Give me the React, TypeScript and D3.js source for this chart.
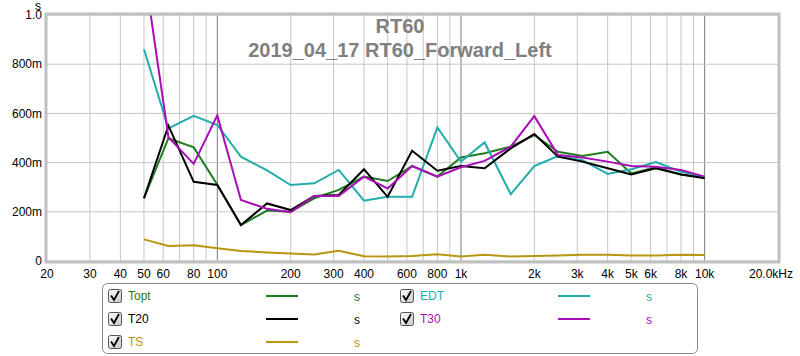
import React from "react";
import * as d3 from "d3";

const freqs = [50, 63, 80, 100, 125, 160, 200, 250, 315, 400, 500, 630, 800, 1000, 1250, 1600, 2000, 2500, 3150, 4000, 5000, 6300, 8000, 10000];
const topt = [0.255, 0.499, 0.462, 0.31, 0.146, 0.205, 0.2, 0.255, 0.289, 0.343, 0.325, 0.386, 0.343, 0.421, 0.438, 0.465, 0.512, 0.444, 0.427, 0.444, 0.356, 0.381, 0.352, 0.34];
const edt = [0.861, 0.539, 0.59, 0.553, 0.424, 0.368, 0.309, 0.316, 0.37, 0.245, 0.261, 0.261, 0.543, 0.404, 0.482, 0.272, 0.386, 0.427, 0.41, 0.354, 0.373, 0.402, 0.363, 0.343];
const t20 = [0.255, 0.55, 0.322, 0.309, 0.146, 0.234, 0.207, 0.264, 0.268, 0.373, 0.261, 0.448, 0.367, 0.386, 0.377, 0.458, 0.516, 0.424, 0.404, 0.377, 0.352, 0.377, 0.352, 0.336];
const t30 = [1.19, 0.503, 0.395, 0.592, 0.248, 0.212, 0.198, 0.264, 0.264, 0.343, 0.295, 0.386, 0.343, 0.381, 0.407, 0.465, 0.589, 0.431, 0.421, 0.404, 0.386, 0.383, 0.37, 0.343];
const ts = [0.088, 0.061, 0.064, 0.052, 0.041, 0.035, 0.03, 0.026, 0.042, 0.019, 0.018, 0.02, 0.027, 0.018, 0.025, 0.018, 0.02, 0.022, 0.025, 0.025, 0.022, 0.022, 0.025, 0.024];

const xTickValues = [20, 30, 40, 50, 60, 80, 100, 200, 300, 400, 600, 800, 1000, 2000, 3000, 4000, 5000, 6000, 8000, 10000];
const xTickLabels = ["20", "30", "40", "50", "60", "80", "100", "200", "300", "400", "600", "800", "1k", "2k", "3k", "4k", "5k", "6k", "8k", "10k"];
const yTickValues = [0, 0.2, 0.4, 0.6, 0.8, 1.0];
const yTickLabels = ["0", "200m", "400m", "600m", "800m", "1.0"];

const seriesNames = ["Topt", "EDT", "T20", "T30", "TS"];
const seriesColors = ["#1e7d1e", "#22acac", "#000000", "#a80fb4", "#b8960f"];
const seriesData = [topt, edt, t20, t30, ts];

const FONT = "'Liberation Sans', Arial, sans-serif";

export default function App() {
  const L = 47, R = 778, T = 15, B = 261;
  const x = d3.scaleLog().domain([20, 20000]).range([L, R]);
  const y = d3.scaleLinear().domain([0, 1]).range([B, T]);

  const gridX: number[] = [];
  for (let dec = 10; dec <= 10000; dec *= 10) {
    for (let m = 1; m <= 9; m++) {
      const v = dec * m;
      if (v > 20 && v < 20000) gridX.push(v);
    }
  }
  const line = d3
    .line<number>()
    .x((_, i) => x(freqs[i]))
    .y((d) => y(d));

  const legendItems = [
    { i: 0, col: 0, row: 0 },
    { i: 1, col: 1, row: 0 },
    { i: 2, col: 0, row: 1 },
    { i: 3, col: 1, row: 1 },
    { i: 4, col: 0, row: 2 },
  ];

  return (
    <svg width={800} height={356} style={{ position: "absolute", left: 0, top: 0, background: "#fff" }} fontFamily={FONT}>
      <defs>
        <clipPath id="plotclip">
          <rect x={L} y={T} width={R - L} height={B - T} />
        </clipPath>
        <linearGradient id="cbg" x1="0" y1="0" x2="1" y2="1">
          <stop offset="0" stopColor="#ffffff" />
          <stop offset="1" stopColor="#c8c8c8" />
        </linearGradient>
      </defs>
      <rect x={0} y={0} width={800} height={356} fill="#fff" />
      {gridX.map((v) => {
        const dec = Math.abs(Math.log10(v) % 1) < 1e-9;
        return (
          <line key={"gx" + v} x1={x(v)} x2={x(v)} y1={T} y2={B} stroke={dec ? "#7a7a7a" : "#c6c6c6"} strokeWidth={1} />
        );
      })}
      {yTickValues.map((v) => (
        <line key={"gy" + v} x1={L} x2={R} y1={y(v)} y2={y(v)} stroke="#c6c6c6" strokeWidth={1} />
      ))}
      <text x={400} y={33} textAnchor="middle" fontSize={20} fontWeight="bold" fill="#808080">RT60</text>
      <text x={400} y={57} textAnchor="middle" fontSize={20} fontWeight="bold" fill="#808080">2019_04_17 RT60_Forward_Left</text>
      <g clipPath="url(#plotclip)">
        {seriesData.map((d, k) => (
          <path key={seriesNames[k]} d={line(d) || ""} fill="none" stroke={seriesColors[k]} strokeWidth={2} strokeLinejoin="miter" />
        ))}
      </g>
      <rect x={L - 1} y={T - 1} width={R - L + 2} height={B - T + 2} fill="none" stroke="#c0c0c0" strokeWidth={3} />
      {yTickValues.map((v, i) => (
        <text key={"yl" + v} x={42} y={y(v)} dy="0.35em" textAnchor="end" fontSize={12} fill="#000">{yTickLabels[i]}</text>
      ))}
      <text x={38} y={10} textAnchor="middle" fontSize={12} fill="#000">s</text>
      {xTickValues.map((v, i) => (
        <text key={"xl" + v} x={x(v)} y={278} textAnchor="middle" fontSize={12} fill="#000">{xTickLabels[i]}</text>
      ))}
      <text x={793} y={278} textAnchor="end" fontSize={12} fill="#000">20.0kHz</text>
      <rect x={102.5} y={283.5} width={595} height={70} rx={5} fill="#fff" stroke="#8a8a8a" strokeWidth={1} />
      {legendItems.map(({ i, col, row }) => {
        const ox = col * 292;
        const cy = 296 + row * 23;
        return (
          <g key={"lg" + i}>
            <rect x={108.5 + ox} y={cy - 6.5} width={13} height={13} rx={2} fill="url(#cbg)" stroke="#555" strokeWidth={1} />
            <path d={`M${111 + ox},${cy - 0.5} L${114 + ox},${cy + 4} L${119 + ox},${cy - 5}`} fill="none" stroke="#000" strokeWidth={1.8} />
            <text x={128 + ox} y={cy} dy="0.35em" fontSize={12} fill={seriesColors[i]}>{seriesNames[i]}</text>
            <line x1={266 + ox} x2={298 + ox} y1={cy} y2={cy} stroke={seriesColors[i]} strokeWidth={2} />
            <text x={357 + ox} y={cy + 1} dy="0.35em" textAnchor="middle" fontSize={12} fill={seriesColors[i]}>s</text>
          </g>
        );
      })}
    </svg>
  );
}
